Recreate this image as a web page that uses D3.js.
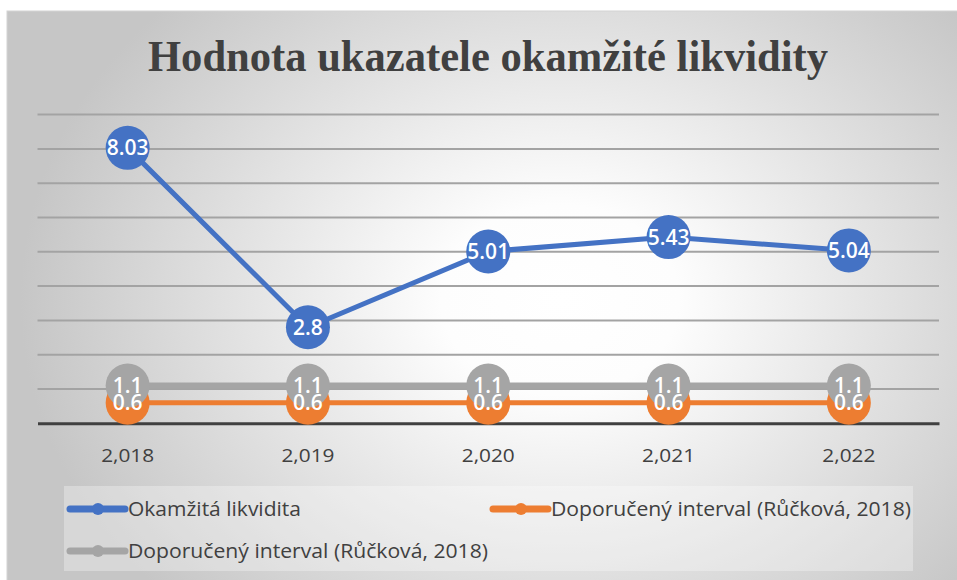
<!DOCTYPE html>
<html>
<head>
<meta charset="utf-8">
<script src="https://cdn.jsdelivr.net/npm/d3@7"></script>
<style>
  html, body { margin: 0; padding: 0; background: #ffffff; }
  svg { display: block; }
</style>
</head>
<body>
<svg id="chart" width="957" height="580"></svg>
<script>
const title = "Hodnota ukazatele okamžité likvidity";
const years = [2018, 2019, 2020, 2021, 2022];
const seriesNames = ["Okamžitá likvidita", "Doporučený interval (Růčková, 2018)", "Doporučený interval (Růčková, 2018)"];
const liquidity = [8.03, 2.8, 5.01, 5.43, 5.04];
const intervalLow = [0.6, 0.6, 0.6, 0.6, 0.6];
const intervalHigh = [1.1, 1.1, 1.1, 1.1, 1.1];
const yTicks = [0, 1, 2, 3, 4, 5, 6, 7, 8, 9];
const colors = ["#4472C4", "#ED7D31", "#A5A5A5"];

const svg = d3.select("#chart");
const defs = svg.append("defs");
const grad = defs.append("radialGradient")
  .attr("id", "bg").attr("gradientUnits", "userSpaceOnUse")
  .attr("cx", 560).attr("cy", 300).attr("r", 540)
  .attr("gradientTransform", "translate(560,300) scale(1,0.8) translate(-560,-300)");
grad.append("stop").attr("offset", "0").attr("stop-color", "#ffffff");
grad.append("stop").attr("offset", "0.22").attr("stop-color", "#fdfdfd");
grad.append("stop").attr("offset", "1").attr("stop-color", "#c6c6c6");

svg.append("rect").attr("x", 7).attr("y", 11).attr("width", 952).attr("height", 571)
  .attr("fill", "url(#bg)").attr("stroke", "#d4d4d4").attr("stroke-width", 1);

// Title
svg.append("text").text(title)
  .attr("x", 148).attr("y", 71)
  .attr("font-family", "Liberation Serif, serif").attr("font-weight", "bold")
  .attr("font-size", 45).attr("fill", "#404040")
  .attr("textLength", 680).attr("lengthAdjust", "spacingAndGlyphs");

// Scales
const x = d3.scaleBand().domain(years).range([37.5, 939]).padding(0);
const cx = d => x(d) + x.bandwidth() / 2;
const y = d3.scaleLinear().domain([0, 9]).range([423.3, 114.6]);

// Gridlines
svg.append("g").selectAll("line").data(yTicks.filter(t => t > 0)).join("line")
  .attr("x1", 37.5).attr("x2", 939)
  .attr("y1", d => y(d)).attr("y2", d => y(d))
  .attr("stroke", "#a3a3a3").attr("stroke-width", 2);

// X axis
const xAxis = d3.axisBottom(x).tickSize(0).tickPadding(25).tickFormat(d3.format(","));
const gx = svg.append("g").attr("transform", `translate(0,${y(0)})`).call(xAxis);
gx.select(".domain").attr("stroke", "#404040").attr("stroke-width", 3);
gx.selectAll("text").attr("font-family", "Open Sans, sans-serif").attr("font-size", 19)
  .attr("fill", "#404040").attr("textLength", 53).attr("lengthAdjust", "spacingAndGlyphs");

// Series
const series = [
  { values: intervalLow, color: colors[1], width: 5 },
  { values: intervalHigh, color: colors[2], width: 6 },
  { values: liquidity, color: colors[0], width: 5 }
];
const line = d3.line().x((d, i) => cx(years[i])).y(d => y(d));
series.forEach(s => {
  svg.append("path").datum(s.values).attr("d", line)
    .attr("fill", "none").attr("stroke", s.color).attr("stroke-width", s.width)
    .attr("stroke-linejoin", "round");
  svg.append("g").selectAll("circle").data(s.values).join("circle")
    .attr("cx", (d, i) => cx(years[i])).attr("cy", d => y(d)).attr("r", 22)
    .attr("fill", s.color);
});
series.forEach(s => {
  svg.append("g").selectAll("text").data(s.values).join("text")
    .attr("x", (d, i) => cx(years[i])).attr("y", d => y(d))
    .attr("dy", "0.36em").attr("text-anchor", "middle")
    .attr("font-family", "Open Sans, sans-serif").attr("font-weight", 600)
    .attr("font-size", 21).attr("fill", "#ffffff")
    .text(d => String(d));
});

// Legend
svg.append("rect").attr("x", 64).attr("y", 486).attr("width", 849).attr("height", 85)
  .attr("fill", "#ffffff").attr("fill-opacity", 0.3);
const legendItems = [
  { name: seriesNames[0], color: colors[0], lx: 70, ly: 509, tw: 173 },
  { name: seriesNames[1], color: colors[1], lx: 493, ly: 509, tw: 360 },
  { name: seriesNames[2], color: colors[2], lx: 70, ly: 551, tw: 360 }
];
const lg = svg.append("g").selectAll("g").data(legendItems).join("g");
lg.append("line").attr("x1", d => d.lx).attr("x2", d => d.lx + 55)
  .attr("y1", d => d.ly).attr("y2", d => d.ly)
  .attr("stroke", d => d.color).attr("stroke-width", 7).attr("stroke-linecap", "round");
lg.append("circle").attr("cx", d => d.lx + 28).attr("cy", d => d.ly).attr("r", 6)
  .attr("fill", d => d.color);
lg.append("text").attr("x", d => d.lx + 58).attr("y", d => d.ly).attr("dy", "0.36em")
  .attr("font-family", "Open Sans, sans-serif").attr("font-size", 20.5).attr("fill", "#404040")
  .attr("textLength", d => d.tw).attr("lengthAdjust", "spacingAndGlyphs")
  .text(d => d.name);
</script>
</body>
</html>
